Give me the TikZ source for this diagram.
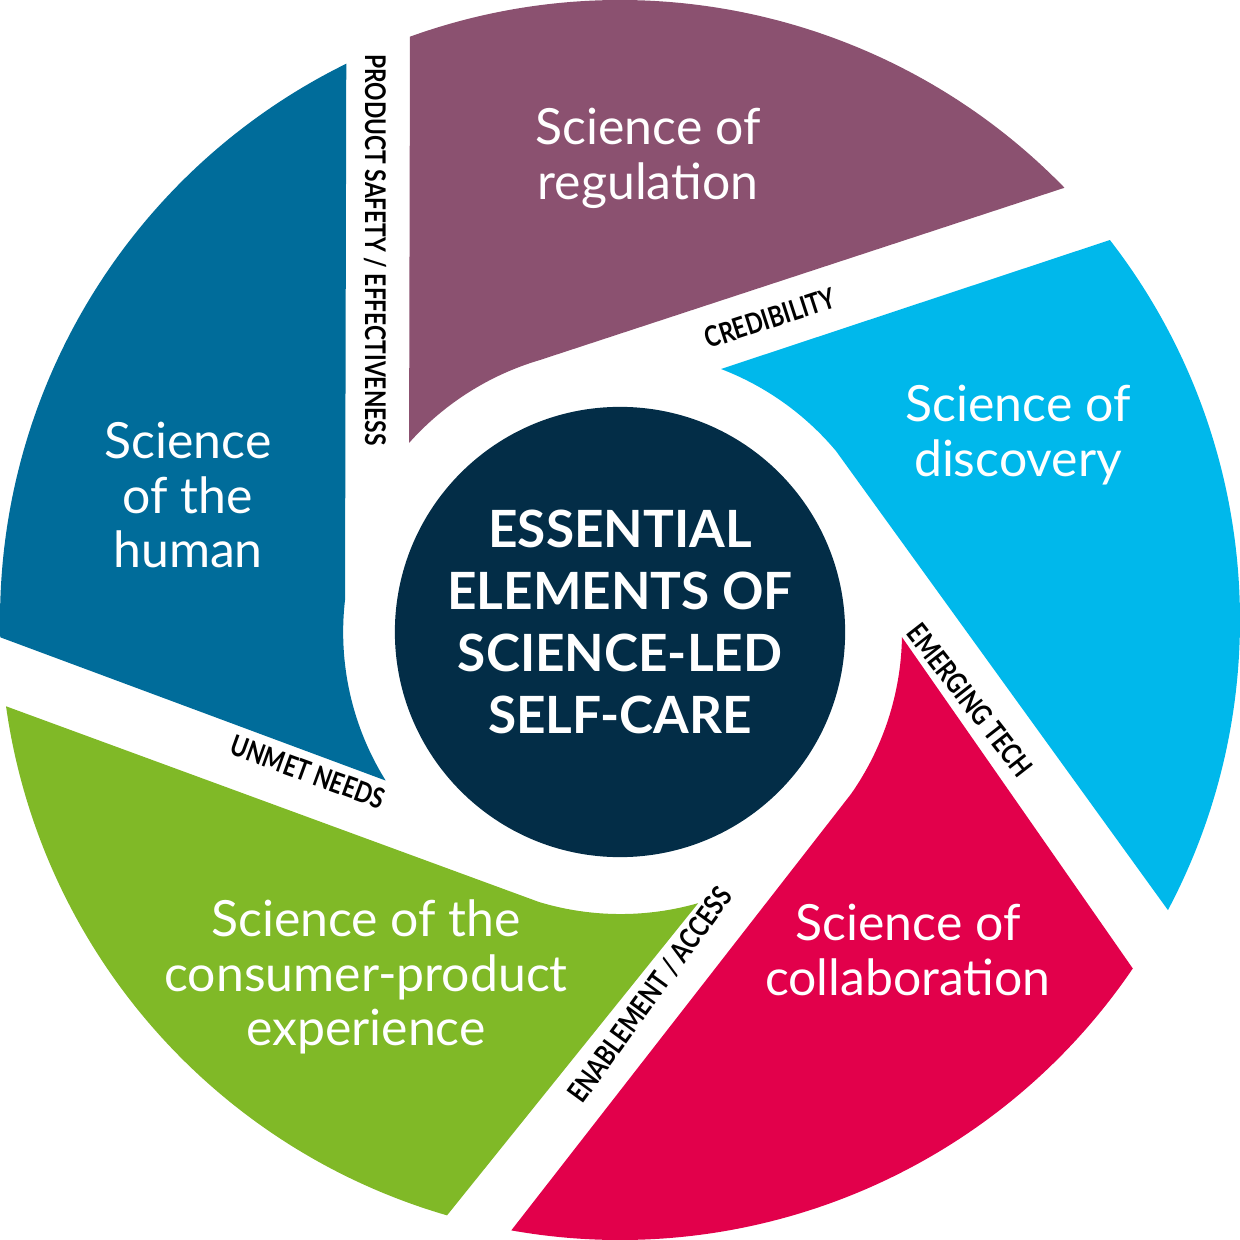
\documentclass[tikz,border=0pt]{standalone}
\usepackage{fontspec}
\setmainfont{Lato}
\newfontfamily\lab[FakeStretch=0.8]{Lato}
\definecolor{cpur}{HTML}{8B5170}
\definecolor{ccya}{HTML}{00B8EB}
\definecolor{cred}{HTML}{E2004B}
\definecolor{cgre}{HTML}{80B927}
\definecolor{cblu}{HTML}{006C9A}
\definecolor{cnav}{HTML}{032D47}
\begin{document}
\begin{tikzpicture}[x=0.01cm,y=-0.01cm,
  seg/.style={text=white,align=center,font=\fontsize{14.2}{15.6}\selectfont},
  lbl/.style={font=\lab\bfseries\fontsize{8.1}{9}\selectfont,inner sep=0pt}]
\useasboundingbox (0,0) rectangle (1240,1240);
% purple
\fill[cpur] (620,620) ++(-109.8:620) arc[start angle=-109.8,end angle=-44.2,radius=620]
  -- (540,360) arc[start angle=-106.4,end angle=-138.3,radius=282] -- cycle;
% cyan
\fill[ccya] (620,620) ++(-37.8:620) arc[start angle=-37.8,end angle=27.9,radius=620]
  -- (836,451) arc[start angle=-40,end angle=-69,radius=282] -- cycle;
% red
\fill[cred] (620,620) ++(34.2:620) arc[start angle=34.2,end angle=100.1,radius=620]
  -- (851,794) arc[start angle=35,end angle=1,radius=282] -- cycle;
% green
\fill[cgre] (620,620) ++(106.2:620) arc[start angle=106.2,end angle=172,radius=620]
  -- (539,902) arc[start angle=106.8,end angle=74,radius=282] -- cycle;
% blue
\fill[cblu] (620,620) ++(178.4:620) arc[start angle=178.4,end angle=243.8,radius=620]
  -- (345,600) arc[start angle=186.6,end angle=148,radius=280] -- cycle;
\node[circle,fill=cnav,minimum size=4.5cm,inner sep=0pt] (core) at (620,632) {};
\node[text=white,align=center,font=\bfseries\fontsize{14.6}{17.6}\selectfont] (ct) at (620,622)
  {ESSENTIAL\\ELEMENTS OF\\SCIENCE-LED\\SELF-CARE};
\node[seg] (reg) at (648,158) {Science of\\regulation};
\node[seg] (dis) at (1018,435) {Science of\\discovery};
\node[seg] (col) at (908,950) {Science of\\collaboration};
\node[seg] (con) at (366,977) {Science of the\\consumer-product\\experience};
\node[seg] (hum) at (188,495) {Science\\of the\\human};
\node[lbl,rotate=-90] (l1) at (375,250) {PRODUCT SAFETY / EFFECTIVENESS};
\node[lbl,rotate=18] (l2) at (770,318) {CREDIBILITY};
\node[lbl,rotate=-52] (l3) at (970,700) {EMERGING TECH};
\node[lbl,rotate=54] (l4) at (650,995) {ENABLEMENT / ACCESS};
\node[lbl,rotate=-20] (l5) at (308,772) {UNMET NEEDS};
\end{tikzpicture}
\end{document}
